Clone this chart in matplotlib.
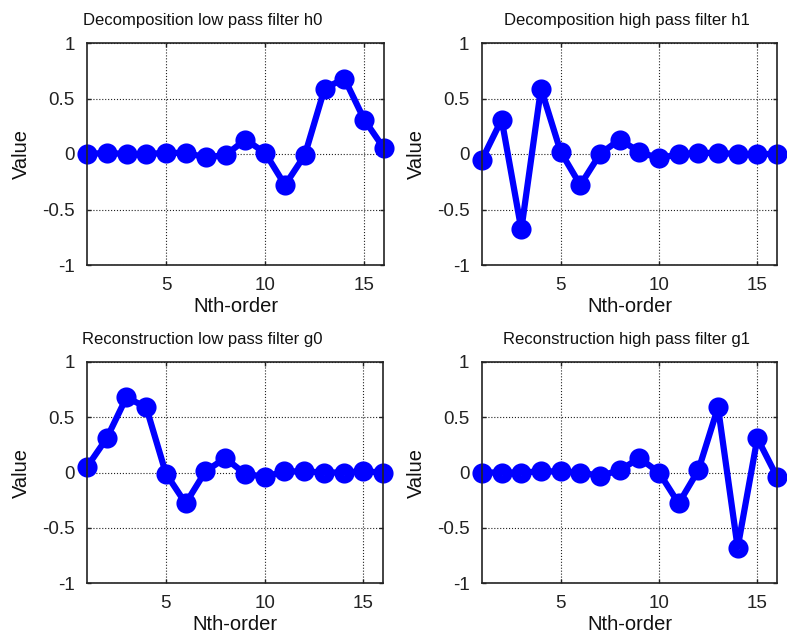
import matplotlib.pyplot as plt
import numpy as np

plt.rcParams['font.family'] = ['Liberation Sans', 'DejaVu Sans']

# filter coefficients
n = np.arange(1, 17)
h0 = [0.00, 0.01, 0.00, 0.00, 0.01, 0.01, -0.03, -0.01, 0.13, 0.01, -0.28, -0.01, 0.59, 0.68, 0.31, 0.05]
h1 = [-0.05, 0.31, -0.68, 0.59, 0.02, -0.28, 0.00, 0.13, 0.02, -0.04, 0.00, 0.01, 0.01, 0.00, 0.00, 0.00]
g0 = [0.05, 0.31, 0.68, 0.59, -0.01, -0.28, 0.01, 0.13, -0.01, -0.04, 0.01, 0.01, 0.00, 0.00, 0.01, 0.00]
g1 = [0.00, 0.00, 0.00, 0.01, 0.01, 0.00, -0.03, 0.02, 0.13, 0.00, -0.28, 0.02, 0.59, -0.68, 0.31, -0.04]

titles = ['Decomposition low pass filter h0', 'Decomposition high pass filter h1',
          'Reconstruction low pass filter g0', 'Reconstruction high pass filter g1']
series = [h0, h1, g0, g1]
yticks = [-1, -0.5, 0, 0.5, 1]
ylabels = ['-1', '-0.5', '0', '0.5', '1']
xticks = [5, 10, 15]

W, H = 787, 639
fig = plt.figure(figsize=(W / 100, H / 100), dpi=100)

# axes boxes in pixels: left, right, top, bottom
boxes = [(87, 384, 43, 265), (482, 777, 43, 265),
         (87, 383, 362, 583), (482, 777, 362, 583)]
title_x = [0.39, 0.49, 0.39, 0.49]

for i in range(4):
    l, r, t, b = boxes[i]
    ax = fig.add_axes([l / W, 1 - b / H, (r - l) / W, (b - t) / H])
    ax.plot(n, series[i], 'o-', color='#0000ff', linewidth=4.5, markersize=8.5,
            markerfacecolor='none', markeredgewidth=6, clip_on=False, zorder=2)
    ax.set_xlim(1, 16)
    ax.set_ylim(-1, 1)
    ax.set_xticks(xticks)
    ax.set_yticks(yticks)
    ax.set_yticklabels(ylabels)
    ax.grid(True, color='#222222', linestyle=':', linewidth=0.8)
    ax.tick_params(direction='in', length=3, width=1, top=True, right=True,
                   labelsize=13.5, pad=9, colors='#222222')
    for s in ax.spines.values():
        s.set_linewidth(1.2)
        s.set_color('#222222')
        s.set_zorder(3)
    ax.set_title(titles[i], fontsize=12, x=title_x[i], pad=13, color='#111111')
    ax.set_xlabel('Nth-order', fontsize=14.5, labelpad=2, color='#111111')
    ax.set_ylabel('Value', fontsize=14.5, labelpad=8, color='#111111')

fig.savefig('out.png', dpi=100)
